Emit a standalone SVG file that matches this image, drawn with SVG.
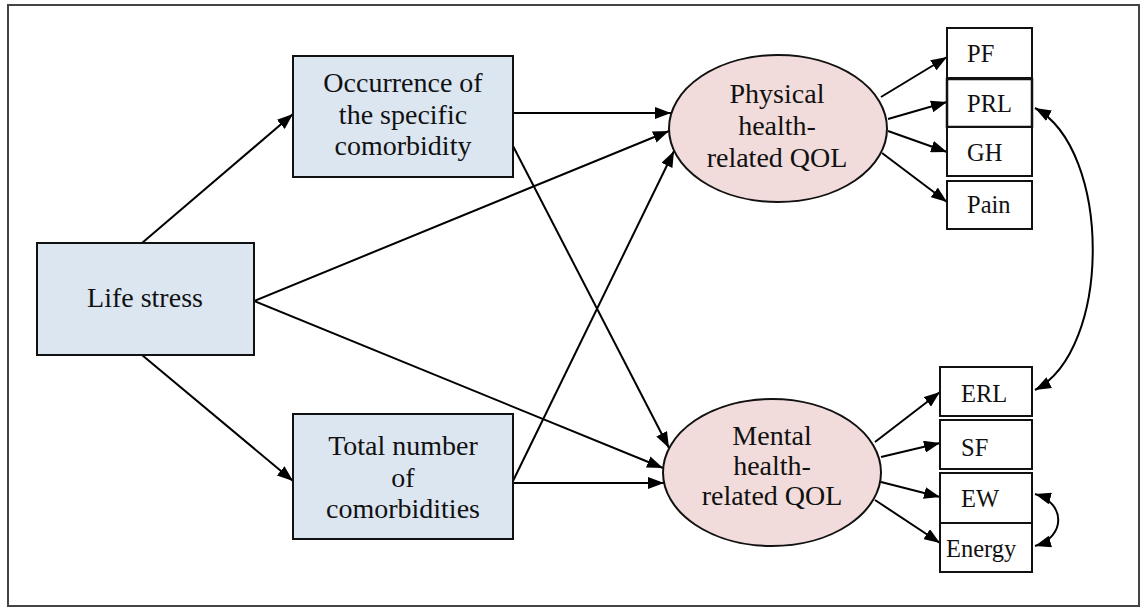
<svg xmlns="http://www.w3.org/2000/svg" width="1143" height="608" viewBox="0 0 1143 608">
<style>
.frame{fill:#fff;stroke:#444;stroke-width:2}
.box{fill:#dce6f1;stroke:#111;stroke-width:2}
.lat{fill:#f2dcdb;stroke:#111;stroke-width:2}
.ind{fill:#fff;stroke:#111;stroke-width:2}
.big{font-family:"Liberation Serif","Times New Roman",serif;font-size:28px;fill:#111;text-anchor:middle}
.sm{font-family:"Liberation Serif","Times New Roman",serif;font-size:24.5px;fill:#111}
.c{fill:none;stroke:#000;stroke-width:2}
</style>
<defs>
<marker id="ah" viewBox="0 0 16 12" refX="16" refY="6" markerWidth="16" markerHeight="12" markerUnits="userSpaceOnUse" orient="auto-start-reverse">
<path d="M0,0 L16,6 L0,12 Z" fill="#000"/>
</marker>
</defs>
<rect class="frame" x="8" y="5" width="1131" height="601"/>
<g id="connectors">
<path class="c" d="M142,243 L293,114" marker-end="url(#ah)"/>
<path class="c" d="M142,355 L293,481" marker-end="url(#ah)"/>
<path class="c" d="M254,301 L669,131" marker-end="url(#ah)"/>
<path class="c" d="M254,301 L663,468" marker-end="url(#ah)"/>
<path class="c" d="M513,113 L671,113" marker-end="url(#ah)"/>
<path class="c" d="M513,146 L669,448" marker-end="url(#ah)"/>
<path class="c" d="M513,481 L674,151" marker-end="url(#ah)"/>
<path class="c" d="M513,483 L664,483" marker-end="url(#ah)"/>
<path class="c" d="M881,97 L947,57" marker-end="url(#ah)"/>
<path class="c" d="M888,119 L947,102" marker-end="url(#ah)"/>
<path class="c" d="M888,131 L947,152" marker-end="url(#ah)"/>
<path class="c" d="M882,153 L947,202" marker-end="url(#ah)"/>
<path class="c" d="M875,442 L940,392" marker-end="url(#ah)"/>
<path class="c" d="M881,457 L940,443" marker-end="url(#ah)"/>
<path class="c" d="M881,482 L940,497" marker-end="url(#ah)"/>
<path class="c" d="M875,500 L940,543" marker-end="url(#ah)"/>
<path class="c" d="M1035,108 C1112,150 1112,350 1035,390" marker-start="url(#ah)" marker-end="url(#ah)"/>
<path class="c" d="M1035,494 C1066,503 1066,537 1035,546" marker-start="url(#ah)" marker-end="url(#ah)"/>
</g>
<g id="life-stress">
<rect class="box" x="37" y="243" width="217" height="112"/>
<text class="big" x="145" y="307">Life stress</text>
</g>
<g id="occurrence">
<rect class="box" x="293" y="56" width="220" height="121"/>
<text class="big" x="403" y="92">Occurrence of</text>
<text class="big" x="403" y="124">the specific</text>
<text class="big" x="403" y="155">comorbidity</text>
</g>
<g id="total">
<rect class="box" x="293" y="414" width="220" height="125"/>
<text class="big" x="403" y="455">Total number</text>
<text class="big" x="403" y="487">of</text>
<text class="big" x="403" y="518">comorbidities</text>
</g>
<g id="physical">
<ellipse class="lat" cx="778" cy="128.5" rx="109" ry="73.5"/>
<text class="big" x="777" y="103">Physical</text>
<text class="big" x="777" y="135">health-</text>
<text class="big" x="777" y="167">related QOL</text>
</g>
<g id="mental">
<ellipse class="lat" cx="772" cy="472.5" rx="109" ry="73.5"/>
<text class="big" x="772" y="445">Mental</text>
<text class="big" x="772" y="475">health-</text>
<text class="big" x="772" y="505">related QOL</text>
</g>
<g id="pf"><rect class="ind" x="947" y="28" width="85" height="50"/><text class="sm" x="967" y="62">PF</text></g>
<g id="prl"><rect class="ind" x="947" y="79" width="85" height="48" style="stroke-width:2.5"/><text class="sm" x="967" y="112">PRL</text></g>
<g id="gh"><rect class="ind" x="947" y="127" width="85" height="49"/><text class="sm" x="967" y="161">GH</text></g>
<g id="pain"><rect class="ind" x="947" y="181" width="85" height="48"/><text class="sm" x="967" y="213">Pain</text></g>
<g id="erl"><rect class="ind" x="940" y="367" width="92" height="49"/><text class="sm" x="961" y="402">ERL</text></g>
<g id="sf"><rect class="ind" x="940" y="420" width="92" height="49"/><text class="sm" x="961" y="456">SF</text></g>
<g id="ew"><rect class="ind" x="940" y="473" width="92" height="50"/><text class="sm" x="961" y="507">EW</text></g>
<g id="energy"><rect class="ind" x="940" y="523" width="92" height="49"/><text class="sm" x="946" y="557">Energy</text></g>
</svg>
